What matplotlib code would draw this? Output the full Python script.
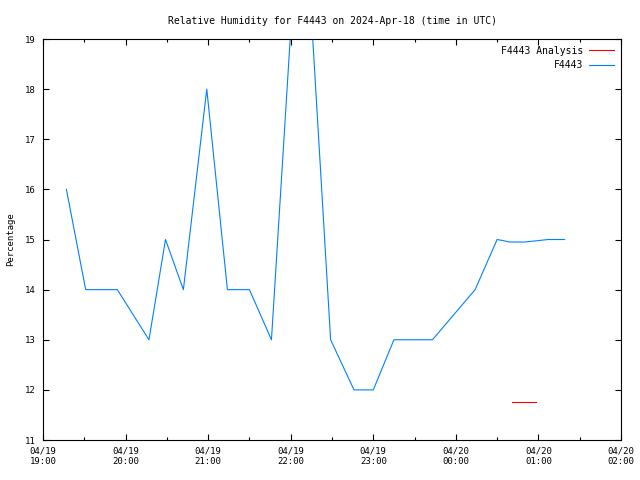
import pandas as pd
import matplotlib
matplotlib.use("Agg")
from matplotlib import pyplot as plt
import matplotlib.dates as mdates

# datos
t_obs = ["2024-04-19 19:17", "2024-04-19 19:31", "2024-04-19 19:54", "2024-04-19 20:17",
         "2024-04-19 20:29", "2024-04-19 20:42", "2024-04-19 20:59", "2024-04-19 21:14",
         "2024-04-19 21:30", "2024-04-19 21:46", "2024-04-19 22:08", "2024-04-19 22:29",
         "2024-04-19 22:46", "2024-04-19 23:00", "2024-04-19 23:15", "2024-04-19 23:43",
         "2024-04-20 00:14", "2024-04-20 00:30", "2024-04-20 00:34", "2024-04-20 00:39",
         "2024-04-20 00:50", "2024-04-20 00:57", "2024-04-20 01:07", "2024-04-20 01:19"]
rh_obs = [16, 14, 14, 13, 15, 14, 18, 14, 14, 13, 22.7, 13, 12, 12, 13, 13, 14, 15,
          14.98, 14.95, 14.95, 14.97, 15.0, 15.0]

t_ana = ["2024-04-20 00:41", "2024-04-20 00:58"]
rh_ana = [11.75, 11.75]

t_obs = pd.to_datetime(t_obs)
t_ana = pd.to_datetime(t_ana)

plt.rcParams["font.family"] = "DejaVu Sans Mono"
plt.rcParams["font.size"] = 7

fig = plt.figure(figsize=(6.4, 4.8), dpi=100)
ax = fig.add_axes([0.0672, 0.0833, 0.9031, 0.8354])

ax.plot(t_ana, rh_ana, color="#ff0000", lw=0.8, label="F4443 Analysis")
ax.plot(t_obs, rh_obs, color="#0080ff", lw=0.8, label="F4443")

ax.set_xlim(pd.Timestamp("2024-04-19 19:00"), pd.Timestamp("2024-04-20 02:00"))
ax.set_ylim(11, 19)
ax.set_yticks(range(11, 20))

ax.xaxis.set_major_locator(mdates.HourLocator())
ax.xaxis.set_minor_locator(mdates.MinuteLocator(byminute=[30]))
ax.xaxis.set_major_formatter(mdates.DateFormatter("%m/%d\n%H:%M"))

ax.tick_params(which="both", direction="in", top=True, right=True, width=0.8,
               labelsize=6.5)
ax.tick_params(which="major", length=4.5, pad=5)
ax.tick_params(which="minor", length=2.5)
for s in ax.spines.values():
    s.set_linewidth(0.8)

ax.set_title("Relative Humidity for F4443 on 2024-Apr-18 (time in UTC)",
             fontsize=7, pad=11)
ax.set_ylabel("Percentage", fontsize=6.5, labelpad=7)

ax.legend(loc="upper right", frameon=False, markerfirst=False, handlelength=2.6,
          labelspacing=0.45, borderaxespad=0.3, handletextpad=0.6, fontsize=7)

fig.savefig("out.png", dpi=100)
